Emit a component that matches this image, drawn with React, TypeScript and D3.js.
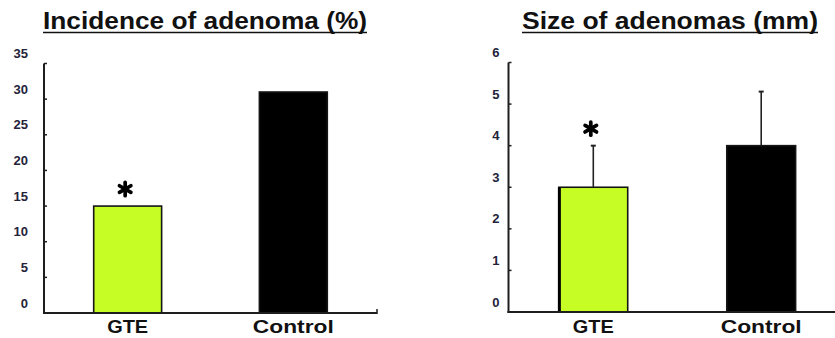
import React from "react";
import * as d3 from "d3";

const categories = ["GTE", "Control"];
const incidenceValues = [15, 31];
const sizeValues = [3, 4];
const sizeErrors = [1, 1.3];
const significant = [true, false];
const incidenceTicks = [0, 5, 10, 15, 20, 25, 30, 35];
const sizeTicks = [0, 1, 2, 3, 4, 5, 6];
const barColors = ["#c5fd25", "#000000"];

const W = 835;
const H = 338;
const INK = "#1e1e1e";

type PanelProps = {
  title: string;
  titleX: number;
  titleWidth: number;
  axisX: number;
  rangeEnd: number;
  yMax: number;
  yTop: number;
  yBottom: number;
  ticks: number[];
  tickLabelGap: number;
  values: number[];
  errors?: number[];
  labelWidths: number[];
  thickLeftEdge?: boolean;
};

function Asterisk({ cx, cy }: { cx: number; cy: number }) {
  const r = 6.6;
  const angles = [90, 30, 150];
  return (
    <g stroke="#000" strokeWidth={3.7} strokeLinecap="round">
      {angles.map((a) => {
        const rad = (a * Math.PI) / 180;
        const dx = Math.cos(rad) * r;
        const dy = Math.sin(rad) * r;
        return <line key={a} x1={cx - dx} y1={cy - dy} x2={cx + dx} y2={cy + dy} />;
      })}
    </g>
  );
}

function Panel(p: PanelProps) {
  const x = d3
    .scaleBand<string>()
    .domain(categories)
    .range([p.axisX, p.rangeEnd])
    .paddingInner(0.59)
    .paddingOuter(0.3);
  const y = d3.scaleLinear().domain([0, p.yMax]).range([p.yBottom, p.yTop]);
  const bw = x.bandwidth();

  return (
    <g>
      {/* title with underline */}
      <text
        x={p.titleX}
        y={29}
        fontFamily="'Liberation Sans', Arial, sans-serif"
        fontWeight="bold"
        fontSize={24.5}
        fill="#111"
        textLength={p.titleWidth}
        lengthAdjust="spacingAndGlyphs"
      >
        {p.title}
      </text>
      <line
        x1={p.titleX}
        x2={p.titleX + p.titleWidth}
        y1={32.5}
        y2={32.5}
        stroke="#111"
        strokeWidth={1.6}
      />

      {/* bars */}
      {categories.map((c, i) => {
        const x0 = x(c)!;
        const top = y(p.values[i]);
        const h = y(0) - top;
        return (
          <g key={c}>
            <rect
              x={x0}
              y={top}
              width={bw}
              height={h}
              fill={barColors[i]}
              stroke="#151515"
              strokeWidth={1.6}
            />
            {p.thickLeftEdge && i === 0 && (
              <line x1={x0 + 0.5} x2={x0 + 0.5} y1={top} y2={y(0)} stroke="#000" strokeWidth={3} />
            )}
          </g>
        );
      })}

      {/* error bars */}
      {p.errors &&
        categories.map((c, i) => {
          const cx = x(c)! + bw / 2;
          const top = y(p.values[i] + p.errors![i]);
          return (
            <g key={"e" + c} stroke="#222" strokeWidth={1.6}>
              <line x1={cx} x2={cx} y1={y(p.values[i])} y2={top} />
              <line x1={cx - 2.5} x2={cx + 2.5} y1={top} y2={top} strokeWidth={2} />
            </g>
          );
        })}

      {/* significance markers */}
      {categories.map((c, i) => {
        if (!significant[i]) return null;
        const cx = x(c)! + bw / 2 - 2.5;
        const top = y(p.values[i] + (p.errors ? p.errors[i] : 0));
        return <Asterisk key={"s" + c} cx={cx} cy={top - 17} />;
      })}

      {/* y axis */}
      <line x1={p.axisX} x2={p.axisX} y1={y(p.yMax)} y2={y(0) + 1} stroke={INK} strokeWidth={2} />
      {p.ticks.map((t) => (
        <g key={"t" + t}>
          <line x1={p.axisX} x2={p.axisX + 3} y1={y(t)} y2={y(t)} stroke={INK} strokeWidth={1.5} />
          <text
            x={p.axisX - p.tickLabelGap}
            y={y(t) - 10}
            dy="0.35em"
            textAnchor="end"
            fontFamily="'Liberation Sans', Arial, sans-serif"
            fontWeight="bold"
            fontSize={13}
            fill="#23233a"
          >
            {t}
          </text>
        </g>
      ))}

      {/* x axis */}
      <line x1={p.axisX - 1} x2={p.rangeEnd} y1={y(0)} y2={y(0)} stroke={INK} strokeWidth={2} />
      <line x1={p.rangeEnd} x2={p.rangeEnd} y1={y(0) + 1} y2={y(0) - 4} stroke={INK} strokeWidth={1.5} />
      {categories.map((c, i) => (
        <text
          key={"l" + c}
          x={x(c)! + bw / 2 - p.labelWidths[i] / 2}
          y={332.5}
          fontFamily="'Liberation Sans', Arial, sans-serif"
          fontWeight="bold"
          fontSize={19}
          fill="#111"
          textLength={p.labelWidths[i]}
          lengthAdjust="spacingAndGlyphs"
        >
          {c}
        </text>
      ))}
    </g>
  );
}

export default function App() {
  return (
    <svg
      width={W}
      height={H}
      viewBox={`0 0 ${W} ${H}`}
      style={{ position: "absolute", left: 0, top: 0, background: "#fff" }}
    >
      <rect width={W} height={H} fill="#fff" />
      <Panel
        title="Incidence of adenoma (%)"
        titleX={43}
        titleWidth={324}
        axisX={44}
        rangeEnd={377}
        yMax={35}
        yTop={63.5}
        yBottom={313}
        ticks={incidenceTicks}
        tickLabelGap={16}
        values={incidenceValues}
        labelWidths={[41, 81]}
      />
      <Panel
        title="Size of adenomas (mm)"
        titleX={522}
        titleWidth={296}
        axisX={508.5}
        rangeEnd={846}
        yMax={6}
        yTop={62.5}
        yBottom={312}
        ticks={sizeTicks}
        tickLabelGap={9}
        values={sizeValues}
        errors={sizeErrors}
        labelWidths={[41, 81]}
        thickLeftEdge
      />
    </svg>
  );
}
